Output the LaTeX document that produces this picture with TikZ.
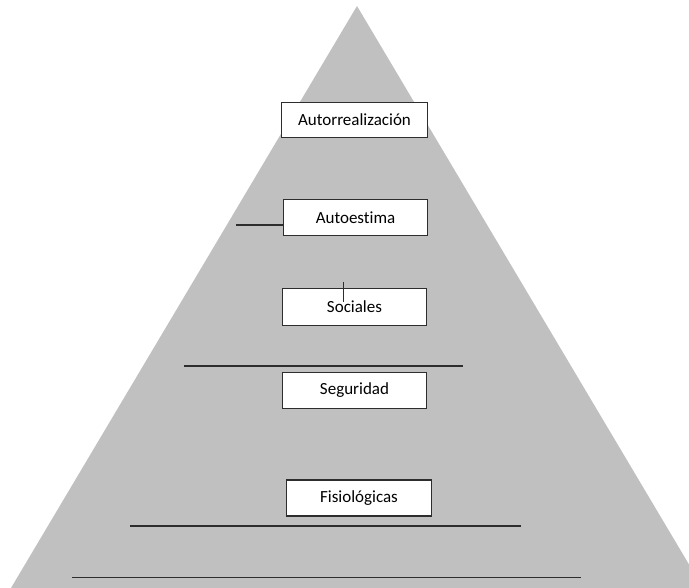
\documentclass[tikz,border=0pt]{standalone}
\usepackage{fontspec}
\setmainfont{Carlito}[Ligatures={NoCommon}]
\definecolor{pyr}{RGB}{192,192,192}
\definecolor{ink}{RGB}{45,45,45}
\tikzset{
  lvl/.style={draw=ink, line width=1.4pt, fill=white, inner sep=0pt, font=\fontsize{17}{18}\selectfont, text=black},
  rule/.style={draw=ink, line width=1.4pt}
}
\begin{document}
\begin{tikzpicture}[x=1pt,y=-1pt]
\useasboundingbox (0,0) rectangle (689,588);
\clip (0,0) rectangle (689,588);
\fill[pyr] (357,6) -- (703,588) -- (11,588) -- cycle;
\node[lvl, minimum width=146pt, minimum height=35pt] (a) at (354.5,120) {Autorrealización};
\node[lvl, minimum width=144pt, minimum height=36pt] (b) at (355.5,217.5) {Autoestima};
\node[lvl, minimum width=144pt, minimum height=37pt] (c) at (354.5,307) {Sociales};
\node[lvl, minimum width=144pt, minimum height=36pt] (d) at (354.5,390.5) {Seguridad};
\node[lvl, minimum width=145pt, minimum height=36pt] (e) at (359,498) {Fisiológicas};
\coordinate (l1) at (236,225);
\draw[rule] (l1) -- (l1 -| b.west);
\coordinate (t1) at (343,282);
\coordinate (t2) at (343,302);
\draw[draw=ink, line width=1pt] (t1) -- (t2);
\coordinate (h1a) at (184,366);
\coordinate (h1b) at (463,366);
\draw[rule] (h1a) -- (h1b);
\coordinate (h2a) at (130,526);
\coordinate (h2b) at (521,526);
\draw[rule] (h2a) -- (h2b);
\coordinate (h3a) at (72,577.5);
\coordinate (h3b) at (581,577.5);
\draw[rule] (h3a) -- (h3b);
\end{tikzpicture}
\end{document}
